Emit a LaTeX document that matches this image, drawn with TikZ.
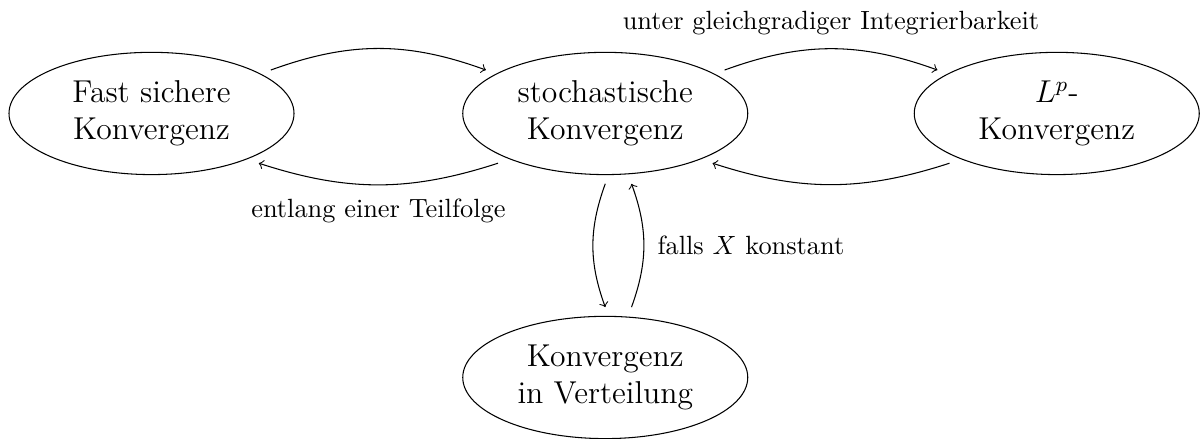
\documentclass[tikz,border=0pt]{standalone}
\usepackage{amsmath}
\usepackage{tikz}
\usetikzlibrary{shapes.geometric}

\begin{document}
\begin{tikzpicture}
    \tikzstyle{every node}=[font=\normalsize]
    \tikzstyle{modus}=[draw, ellipse, align=center, font=\large, minimum width=3.8cm, minimum height=1.63cm, outer sep=3.5pt]
    \tikzstyle{bed}=[inner sep=5pt]
    \useasboundingbox (0,0) rectangle (16,5.853);
    \node [modus] (fs) at (2.02,4.34) {Fast sichere\\Konvergenz};
    \node [modus] (st) at (8.07,4.34) {stochastische\\Konvergenz};
    \node [modus] (lp) at (14.09,4.34) {$L^p$-\\Konvergenz};
    \node [modus] (vt) at (8.07,0.82) {Konvergenz\\in Verteilung};
    \draw[->] (fs) to[bend left=20] (st);
    \draw[->] (st.south west) to[bend left=18] node[bed, below] {entlang einer Teilfolge} (fs.south east);
    \draw[->] (st) to[bend left=20] node[bed, above] {unter gleichgradiger Integrierbarkeit} (lp);
    \draw[->] (lp.south west) to[bend left=18] (st.south east);
    \draw[->] (st.south) to[bend right=20] (vt.north);
    \draw[->] ([xshift=0.35cm]vt.north) to[bend right=20] node[bed, right] {falls $X$ konstant} ([xshift=0.35cm]st.south);
\end{tikzpicture}
\end{document}
